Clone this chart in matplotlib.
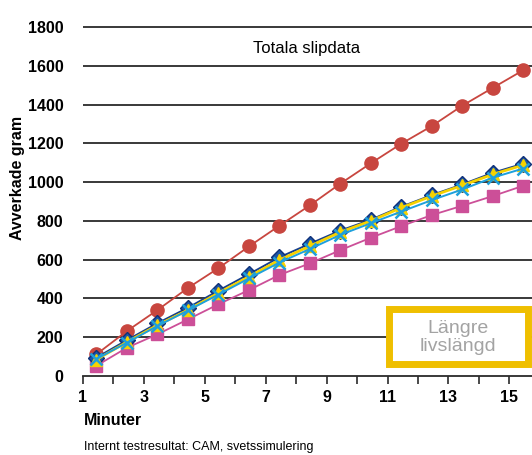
import matplotlib.pyplot as plt
from matplotlib.patches import Rectangle

plt.rcParams['font.family'] = ['Liberation Sans', 'DejaVu Sans']

minutes = [1.45, 2.45, 3.45, 4.45, 5.45, 6.45, 7.45, 8.45, 9.45, 10.45, 11.45, 12.45, 13.45, 14.45, 15.45]
red = [112, 232, 340, 454, 556, 668, 775, 880, 992, 1097, 1198, 1289, 1394, 1486, 1577]
pink = [53, 146, 215, 292, 370, 443, 521, 581, 649, 713, 773, 830, 878, 928, 981]
navy = [95, 185, 272, 352, 440, 525, 612, 682, 750, 806, 873, 933, 988, 1048, 1095]
yellow = [85, 175, 262, 340, 428, 512, 598, 670, 742, 800, 868, 928, 983, 1040, 1088]
cyan = [88, 172, 258, 338, 420, 503, 585, 655, 728, 788, 848, 907, 962, 1023, 1070]

yticks = [0, 200, 400, 600, 800, 1000, 1200, 1400, 1600, 1800]
xticks = list(range(1, 16))
xlabels = [str(t) if t % 2 == 1 else "" for t in xticks]

fig = plt.figure(figsize=(5.32, 4.55), dpi=100)
ax = fig.add_axes([0.1555, 0.1736, 0.8445, 0.7798])

for v in yticks[1:]:
    ax.axhline(v, color='#2a2a2a', lw=1.3, zorder=1)

ax.plot(minutes, pink, color='#cc4f98', lw=1.3, marker='s', ms=8.5, mec='#cc4f98', zorder=3)
ax.plot(minutes, red, color='#c8463f', lw=1.3, marker='o', ms=9.5, mec='#c8463f', zorder=3)
ax.plot(minutes, navy, color='#163f8c', lw=1.4, marker='D', ms=8, mfc='#1c56a6', mec='#0f3078', zorder=4)
ax.plot(minutes, yellow, color='#f6d200', lw=2, marker='^', ms=9, mfc='#f6d200', mec='#f6d200', zorder=5)
ax.plot(minutes, cyan, color='#1ea0dc', lw=1.4, marker='x', ms=8, mew=1.8, zorder=6)

ax.set_xlim(1, 15.74)
ax.set_ylim(0, 1830)
ax.set_xticks(xticks)
ax.set_xticklabels(xlabels, fontsize=11.5, fontweight='bold')
ax.set_yticks(yticks)
ax.set_yticklabels([str(v) for v in yticks], fontsize=11.5, fontweight='bold')
ax.tick_params(axis='y', length=0, pad=14)
ax.tick_params(axis='x', length=6, width=1.2, color='#2a2a2a', pad=4)
for s in ['top', 'right', 'left']:
    ax.spines[s].set_visible(False)
ax.spines['bottom'].set_color('#2a2a2a')
ax.spines['bottom'].set_linewidth(1.3)

ax.text(0.498, 0.922, "Totala slipdata", transform=ax.transAxes, fontsize=12, ha='center', va='center')

ax.add_patch(Rectangle((0.6806, 0.0352), 0.3094, 0.155, transform=ax.transAxes,
                       facecolor='white', edgecolor='#efbf00', lw=5, zorder=7))
ax.text(0.835, 0.108, "Längre\nlivslängd", transform=ax.transAxes, fontsize=14,
        color='#a3a3a3', ha='center', va='center', linespacing=1.05, zorder=8)

fig.text(0.032, 0.61, "Avverkade gram", rotation=90, fontsize=11.5, fontweight='bold', ha='center', va='center')
fig.text(0.158, 0.075, "Minuter", fontsize=11.5, fontweight='bold', ha='left', va='center')
fig.text(0.158, 0.017, "Internt testresultat: CAM, svetssimulering",
         fontsize=9, ha='left', va='center')

fig.savefig("out.png", dpi=100)
plt.close()
